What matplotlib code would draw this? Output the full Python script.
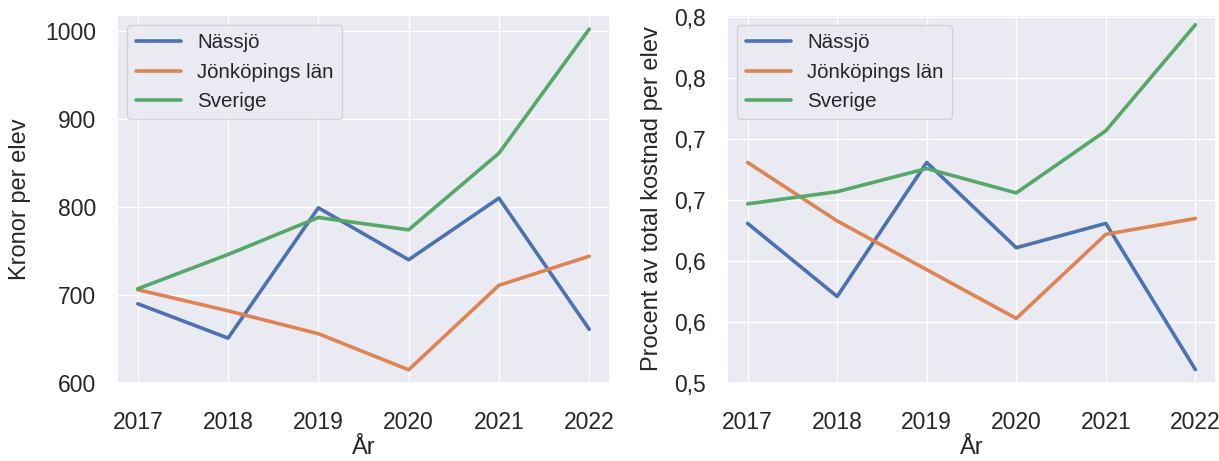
import matplotlib
matplotlib.use("Agg")
import matplotlib.pyplot as plt
from matplotlib.ticker import FuncFormatter
import seaborn as sns

years = [2017, 2018, 2019, 2020, 2021, 2022]
labels = ["Nässjö", "Jönköpings län", "Sverige"]

# kronor per elev
kr_nassjo = [690, 651, 799, 740, 810, 661]
kr_lan = [706, 682, 656, 615, 711, 744]
kr_sverige = [707, 746, 788, 774, 861, 1002]

# procent av total kostnad per elev
pr_nassjo = [0.631, 0.571, 0.681, 0.611, 0.631, 0.511]
pr_lan = [0.681, 0.633, 0.593, 0.553, 0.622, 0.635]
pr_sverige = [0.647, 0.657, 0.676, 0.656, 0.707, 0.794]
pct_ticks = [0.50, 0.55, 0.60, 0.65, 0.70, 0.75, 0.80]

sns.set_theme(style="darkgrid")
plt.rcParams["font.family"] = ["Liberation Sans", "DejaVu Sans"]

fig = plt.figure(figsize=(12.19, 4.61), dpi=100)
W, H = 1219, 461
ax1 = fig.add_axes([117 / W, (H - 383) / H, (610 - 117) / W, (383 - 15) / H])
ax2 = fig.add_axes([727 / W, (H - 383) / H, (1216 - 727) / W, (383 - 15) / H])

for ax, series in [(ax1, [kr_nassjo, kr_lan, kr_sverige]),
                   (ax2, [pr_nassjo, pr_lan, pr_sverige])]:
    for vals, lab in zip(series, labels):
        ax.plot(years, vals, label=lab, linewidth=2.6)
    ax.set_xlim(2016.77, 2022.23)
    ax.set_xticks(years)
    ax.tick_params(axis="x", labelsize=16.5, pad=14)
    ax.tick_params(axis="y", labelsize=16.5, pad=9)
    ax.set_xlabel("År", fontsize=17, labelpad=2)
    ax.legend(loc="upper left", fontsize=14.8, handlelength=2.2)

ax1.set_ylim(600, 1018)
ax1.set_yticks([600, 700, 800, 900, 1000])
ax1.set_ylabel("Kronor per elev", fontsize=17, labelpad=10)

ax2.set_ylim(0.5, 0.802)
ax2.set_yticks(pct_ticks)
ax2.yaxis.set_major_formatter(FuncFormatter(lambda v, p: f"{v:.1f}".replace(".", ",")))
ax2.set_ylabel("Procent av total kostnad per elev", fontsize=17, labelpad=8)

fig.savefig("out.png", dpi=100)
